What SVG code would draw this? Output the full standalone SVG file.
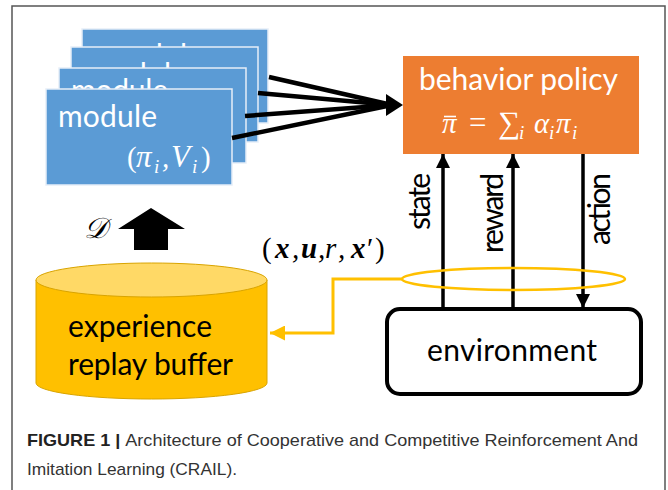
<svg xmlns="http://www.w3.org/2000/svg" width="668" height="490" viewBox="0 0 668 490">
<defs>
<style>
.lbl{font-family:Lato,"Open Sans",sans-serif;font-size:30px;}
.mod{fill:#5B9BD5;stroke:#E6EEF8;stroke-width:1.5;}
.math{font-family:"Liberation Serif","DejaVu Serif",serif;font-style:italic;font-size:29px;}
.up{font-style:normal;}
.sub{font-size:19px;}
.conn{stroke:#000;stroke-width:4.5;fill:none;}
.vconn{stroke:#000;stroke-width:3.5;fill:none;}
.cap{font-family:"Liberation Sans",Arial,sans-serif;font-size:17px;fill:#333;}
</style>
<marker id="ah" viewBox="0 0 10 10" refX="10" refY="5" markerWidth="4" markerHeight="4" markerUnits="strokeWidth" orient="auto">
<path d="M0,0 L10,5 L0,10 z" fill="#000"/>
</marker>
<marker id="ahy" viewBox="0 0 10 10" refX="10" refY="5" markerWidth="5" markerHeight="5" markerUnits="strokeWidth" orient="auto">
<path d="M0,0 L10,5 L0,10 z" fill="#FFC000"/>
</marker>
</defs>
<rect x="0" y="0" width="668" height="490" fill="#fff"/>
<rect x="12" y="6" width="653" height="500" fill="none" stroke="#555" stroke-width="1.5"/>

<g id="modules">
<g id="module4">
<rect class="mod" x="82" y="29" width="186" height="94"/>
<text class="lbl" x="104" y="66" fill="#fff" textLength="99">module</text>
</g>
<g id="module3">
<rect class="mod" x="71" y="47" width="187" height="95"/>
<text class="lbl" x="88" y="85" fill="#fff" textLength="99">module</text>
</g>
<g id="module2">
<rect class="mod" x="59" y="68" width="187" height="95"/>
<text class="lbl" x="71" y="101" fill="#fff" textLength="97">module</text>
</g>
<g id="module1">
<rect class="mod" x="46" y="89" width="186" height="96"/>
<text class="lbl" x="58" y="127" fill="#fff" textLength="99">module</text>
<text class="math" y="167" fill="#fff"><tspan class="up" x="127">(</tspan><tspan x="136" font-size="31">π</tspan><tspan class="sub" x="154" y="173">i</tspan><tspan x="162" y="167">,</tspan><tspan x="171" font-size="31">V</tspan><tspan class="sub" x="192" y="173">i</tspan><tspan class="up" x="201" y="167">)</tspan></text>
</g>
</g>

<g id="policy">
<rect x="403" y="56" width="236" height="98" fill="#ED7D31"/>
<text class="lbl" x="419" y="90" fill="#fff" textLength="199">behavior policy</text>
<text class="math" y="133" fill="#fff"><tspan x="442">π</tspan><tspan class="up" x="469" font-size="31">=</tspan><tspan class="up" x="498" font-size="31">∑</tspan><tspan class="sub" x="519" y="139">i</tspan><tspan x="534" y="133">α</tspan><tspan class="sub" x="549" y="139">i</tspan><tspan x="556" y="133">π</tspan><tspan class="sub" x="572" y="139">i</tspan></text>
<line x1="444" y1="116.5" x2="456" y2="116.5" stroke="#fff" stroke-width="1.6"/>
</g>

<g id="environment">
<rect x="387" y="309" width="254" height="85" rx="13" ry="13" fill="#fff" stroke="#000" stroke-width="4"/>
<text class="lbl" x="427" y="361" fill="#000" textLength="170">environment</text>
</g>

<g id="buffer">
<path d="M36,280 V383 A115.5,16 0 0 0 267,383 V280" fill="#FFC000" stroke="#D9A400" stroke-width="1"/>
<ellipse cx="151.5" cy="280" rx="115.5" ry="17" fill="#FFD966" stroke="#D9A400" stroke-width="1"/>
<text class="lbl" x="68" y="337" fill="#000" textLength="144">experience</text>
<text class="lbl" x="68" y="375" fill="#000" textLength="165">replay buffer</text>
</g>

<g id="connectors">
<line class="conn" x1="269" y1="77" x2="392" y2="105"/>
<line class="conn" x1="258" y1="93" x2="392" y2="105"/>
<line class="conn" x1="245" y1="116" x2="392" y2="105"/>
<line class="conn" x1="232" y1="138" x2="392" y2="105"/>
<polygon points="386,94 403,105 386,116" fill="#000"/>
<line class="vconn" x1="443" y1="309" x2="443" y2="154" marker-end="url(#ah)"/>
<line class="vconn" x1="513" y1="309" x2="513" y2="154" marker-end="url(#ah)"/>
<line class="vconn" x1="583" y1="154" x2="583" y2="308" marker-end="url(#ah)"/>
<ellipse cx="513.5" cy="279" rx="111.5" ry="11" fill="none" stroke="#FFC000" stroke-width="2.5"/>
<path d="M402,279 H333 V333 H270" fill="none" stroke="#FFC000" stroke-width="3" marker-end="url(#ahy)"/>
<polygon points="151,208 185,229 168,229 168,250 134,250 134,229 118,229" fill="#000"/>
</g>

<g id="labels">
<text class="lbl" transform="translate(430,201.5) rotate(-90)" text-anchor="middle" fill="#000" textLength="57">state</text>
<text class="lbl" transform="translate(503,213) rotate(-90)" text-anchor="middle" fill="#000" textLength="80">reward</text>
<text class="lbl" transform="translate(610,209) rotate(-90)" text-anchor="middle" fill="#000" textLength="72">action</text>
<text class="math" x="84" y="238" fill="#000">𝒟</text>
<text class="math" y="258" fill="#000"><tspan class="up" x="262">(</tspan><tspan font-weight="bold" x="275">x</tspan><tspan x="292">,</tspan><tspan font-weight="bold" x="301">u</tspan><tspan x="318">,</tspan><tspan x="325">r</tspan><tspan x="338">,</tspan><tspan font-weight="bold" x="351">x</tspan><tspan class="up" x="367">′</tspan><tspan class="up" x="375">)</tspan></text>
</g>

<g id="caption">
<text class="cap" x="27" y="446" textLength="611" lengthAdjust="spacingAndGlyphs"><tspan font-weight="bold" fill="#222">FIGURE 1 | </tspan>Architecture of Cooperative and Competitive Reinforcement And</text>
<text class="cap" x="27" y="475" textLength="210" lengthAdjust="spacingAndGlyphs">Imitation Learning (CRAIL).</text>
</g>
</svg>
